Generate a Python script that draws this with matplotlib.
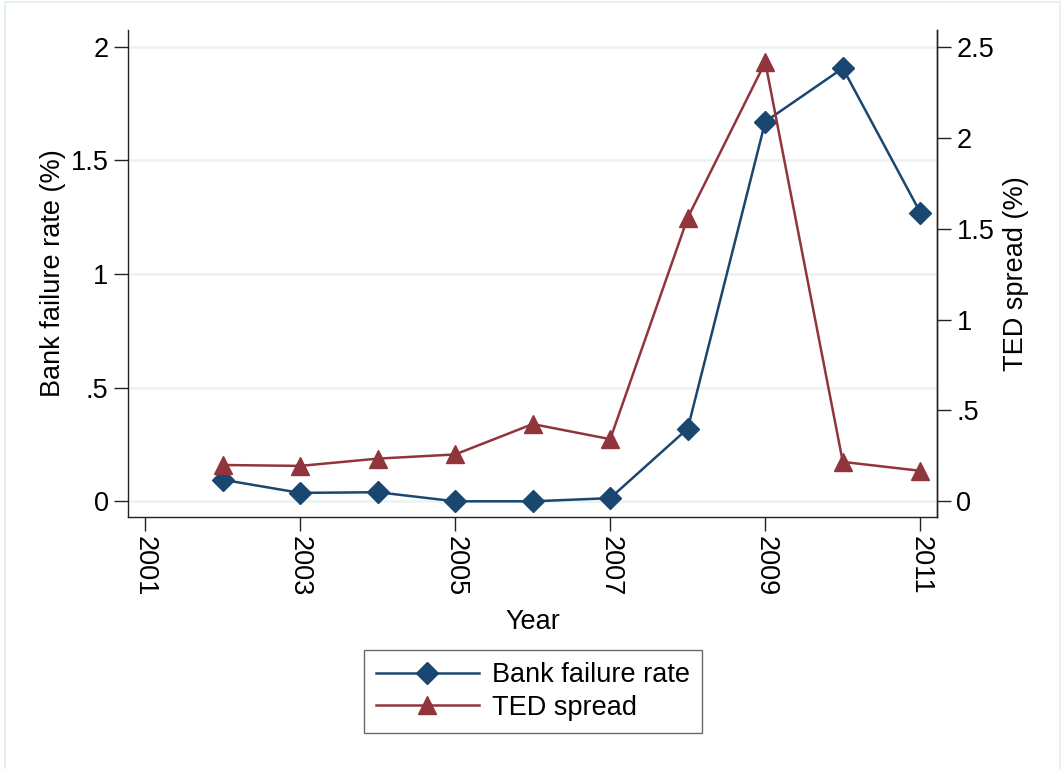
import numpy as np
import matplotlib.pyplot as plt
from matplotlib.patches import Rectangle

plt.rcParams['font.family'] = ['Liberation Sans', 'DejaVu Sans']

# data
years = [2002, 2003, 2004, 2005, 2006, 2007, 2008, 2009, 2010, 2011]
bank_fail = [0.095, 0.037, 0.040, 0.0, 0.0, 0.014, 0.32, 1.67, 1.905, 1.27]
ted_spread = [0.20, 0.195, 0.235, 0.258, 0.425, 0.342, 1.56, 2.415, 0.217, 0.168]
xticks = [2001, 2003, 2005, 2007, 2009, 2011]
lticks = [0, 0.5, 1, 1.5, 2]
lticklabels = ['0', '.5', '1', '1.5', '2']
rticks = [0, 0.5, 1, 1.5, 2, 2.5]
rticklabels = ['0', '.5', '1', '1.5', '2', '2.5']

navy = '#1a476f'
maroon = '#90353b'
fs = 19.5

W, H = 1061, 769
fig = plt.figure(figsize=(W / 100, H / 100), dpi=100)
fig.patches.append(Rectangle((5 / W, -0.01), 1055 / W, 1 - 2 / H + 0.01,
                             transform=fig.transFigure, fill=False,
                             edgecolor='#e6eff1', lw=1.5))

ax = fig.add_axes([128 / W, 1 - 517 / H, (937 - 128) / W, (517 - 30) / H])
ax2 = ax.twinx()

for y in lticks:
    ax.axhline(y, color='#eaf2f3', lw=1.8, zorder=0)

l1, = ax.plot(years, bank_fail, color=navy, lw=1.8, marker='D', ms=11,
              label='Bank failure rate', zorder=3)
l2, = ax2.plot(years, ted_spread, color=maroon, lw=1.8, marker='^', ms=13,
               label='TED spread', zorder=3)

ax.set_xlim(2000.78, 2011.215)
ax.set_ylim(-0.069, 2.073)
ax2.set_ylim(-0.086, 2.592)

ax.set_xticks(xticks)
ax.set_xticklabels([str(x) for x in xticks], rotation=-90)
ax.set_yticks(lticks)
ax.set_yticklabels(lticklabels)
ax2.set_yticks(rticks)
ax2.set_yticklabels(rticklabels)

for a in (ax, ax2):
    a.spines['top'].set_visible(False)
    for s in a.spines.values():
        s.set_linewidth(1.0)
        s.set_color('#222222')
    a.tick_params(labelsize=fs, length=10, width=1.0, color='#222222', pad=4)
ax2.spines['left'].set_visible(False)
ax2.spines['bottom'].set_visible(False)

ax.set_xlabel('Year', fontsize=fs, labelpad=9)
ax.set_ylabel('Bank failure rate (%)', fontsize=fs, labelpad=3.5)
ax2.set_ylabel('TED spread (%)', fontsize=fs, labelpad=6)

leg = fig.legend(handles=[l1, l2], loc='center',
                 bbox_to_anchor=(533 / W, 1 - 691.5 / H), fontsize=fs,
                 handlelength=3.8, handletextpad=0.5, borderpad=0.45,
                 labelspacing=0.25, borderaxespad=0, fancybox=False)
leg.get_frame().set_edgecolor('#444444')
leg.get_frame().set_linewidth(1.0)

fig.savefig('out.png', dpi=100)
